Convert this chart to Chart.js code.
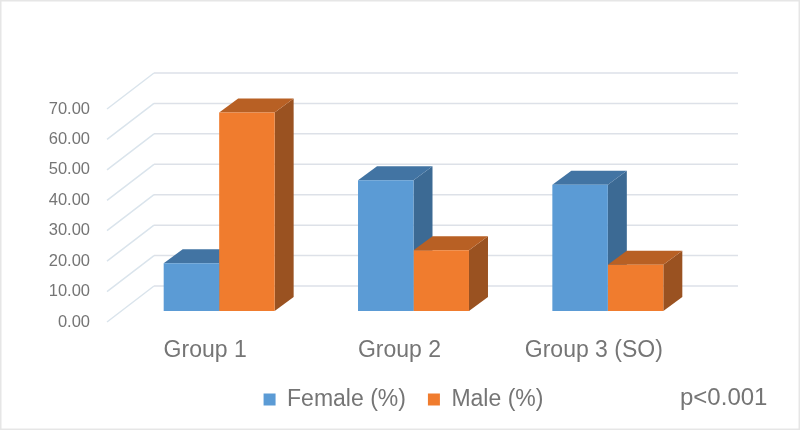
<!DOCTYPE html>
<html>
<head>
<meta charset="utf-8">
<script src="https://cdn.jsdelivr.net/npm/chart.js@4"></script>
<style>
html, body { margin: 0; padding: 0; background: #fff; }
#wrap { position: relative; width: 800px; height: 430px; }
</style>
</head>
<body>
<div id="wrap"><canvas id="canvas" width="800" height="430"></canvas></div>
<script>
const categories = ['Group 1', 'Group 2', 'Group 3 (SO)'];
const femaleValues = [15.7, 43, 41.5];
const maleValues = [65.2, 20, 15.2];
const tickValues = [0, 10, 20, 30, 40, 50, 60, 70];

const GREY = '#757575';
const FONT = '"Liberation Sans", Arial, sans-serif';

// darker faces for the fake 3D look, keyed by dataset
const faces = [
    { top: '#4274A3', side: '#3C6A94' },
    { top: '#B86024', side: '#9A5221' }
];
const depthX = 19;
const depthY = 14;
const barLift = 11;

// floor and wall lines, drawn behind the bars
const wallPlugin = {
    id: 'wall',
    beforeDatasetsDraw(chart) {
        const ctx = chart.ctx;
        const y = chart.scales.y;
        ctx.save();
        ctx.lineWidth = 1.5;
        tickValues.forEach(v => {
            const py = y.getPixelForValue(v);
            ctx.strokeStyle = '#DAE4EC';
            ctx.beginPath();
            ctx.moveTo(107, py);
            ctx.lineTo(154, py - 36);
            ctx.stroke();
            ctx.strokeStyle = '#DDE1E8';
            ctx.beginPath();
            ctx.moveTo(154, py - 36);
            ctx.lineTo(738, py - 36);
            ctx.stroke();
        });
        ctx.restore();
        // bars stand a bit further back than the front edge of the floor
        ctx.save();
        ctx.translate(0, -barLift);
        chart.getSortedVisibleDatasetMetas().forEach(meta => {
            meta.data.forEach(bar => {
                const p = bar.getProps(['x', 'y', 'base', 'width'], true);
                const right = p.x + p.width / 2;
                const left = p.x - p.width / 2;
                const f = faces[meta.index];
                ctx.fillStyle = f.side;
                ctx.beginPath();
                ctx.moveTo(right, p.base);
                ctx.lineTo(right + depthX, p.base - depthY);
                ctx.lineTo(right + depthX, p.y - depthY);
                ctx.lineTo(right, p.y);
                ctx.closePath();
                ctx.fill();
                ctx.fillStyle = f.top;
                ctx.beginPath();
                ctx.moveTo(left, p.y);
                ctx.lineTo(left + depthX, p.y - depthY);
                ctx.lineTo(right + depthX, p.y - depthY);
                ctx.lineTo(right, p.y);
                ctx.closePath();
                ctx.fill();
            });
        });
    },
    afterDatasetsDraw(chart) {
        chart.ctx.restore();
    }
};

const noteAndFrame = {
    id: 'noteAndFrame',
    afterDraw(chart) {
        const ctx = chart.ctx;
        ctx.save();
        ctx.fillStyle = GREY;
        ctx.font = '24px ' + FONT;
        ctx.textBaseline = 'middle';
        ctx.fillText('p<0.001', 680, 398);
        ctx.strokeStyle = '#E6E6E6';
        ctx.lineWidth = 3;
        ctx.strokeRect(0, 0, 800, 430);
        ctx.restore();
    }
};

new Chart(document.getElementById('canvas').getContext('2d'), {
    type: 'bar',
    data: {
        labels: categories,
        datasets: [
            { label: 'Female (%)', data: femaleValues, backgroundColor: '#5B9BD5' },
            { label: 'Male (%)', data: maleValues, backgroundColor: '#F07C2E' }
        ]
    },
    options: {
        responsive: false,
        animation: false,
        categoryPercentage: 0.571,
        barPercentage: 1,
        layout: { padding: { top: 109, right: 0, bottom: 9, left: 7 } },
        scales: {
            x: {
                grid: { display: false },
                border: { display: false },
                afterFit(scale) { scale.height = 44; },
                ticks: {
                    color: GREY,
                    font: { size: 23, family: FONT },
                    labelOffset: -14,
                    maxRotation: 0,
                    padding: 7
                }
            },
            y: {
                min: 0,
                max: 70,
                grid: { display: false },
                border: { display: false },
                afterFit(scale) { scale.width = 115; },
                ticks: {
                    color: GREY,
                    font: { size: 16.5, family: FONT },
                    padding: 24,
                    stepSize: 10,
                    callback: v => v.toFixed(2)
                }
            },
            // empty axis, only holds the right margin so the legend stays centred on the full width
            spacer: {
                type: 'linear',
                position: 'right',
                grid: { display: false },
                border: { display: false },
                ticks: { display: false },
                afterFit(scale) { scale.width = 95; }
            }
        },
        plugins: {
            legend: {
                position: 'bottom',
                labels: {
                    color: GREY,
                    font: { size: 23, family: FONT },
                    boxWidth: 12,
                    boxHeight: 12,
                    padding: 22
                }
            },
            tooltip: { enabled: false }
        }
    },
    plugins: [wallPlugin, noteAndFrame]
});
</script>
</body>
</html>
